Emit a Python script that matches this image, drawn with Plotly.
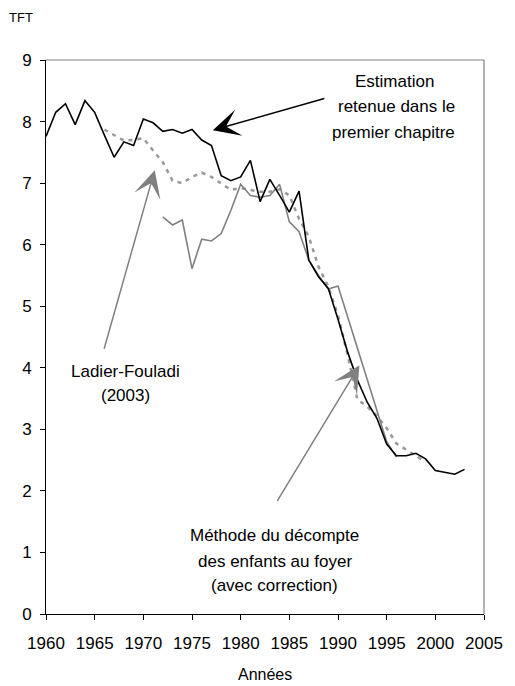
import plotly.graph_objects as go

# Estimation retenue dans le premier chapitre
years_est = list(range(1960, 2004))
tft_est = [7.76, 8.15, 8.29, 7.95, 8.34, 8.15, 7.78, 7.42, 7.67, 7.61,
           8.04, 7.98, 7.84, 7.87, 7.81, 7.87, 7.70, 7.61, 7.12, 7.04,
           7.10, 7.37, 6.70, 7.06, 6.80, 6.53, 6.87, 5.75, 5.48, 5.29,
           4.79, 4.25, 3.80, 3.44, 3.18, 2.76, 2.57, 2.57, 2.61, 2.52,
           2.33, 2.30, 2.27, 2.35]

# Méthode du décompte des enfants au foyer (avec correction)
years_own = list(range(1972, 1997))
tft_own = [6.45, 6.32, 6.40, 5.61, 6.09, 6.06, 6.18, 6.56, 6.98, 6.80,
           6.77, 6.80, 6.98, 6.37, 6.21, 5.75, 5.50, 5.28, 5.33, 4.82,
           4.30, 3.80, 3.30, 2.80, 2.55]

# Ladier-Fouladi (2003)
years_lf = list(range(1966, 2000))
tft_lf = [7.87, 7.78, 7.69, 7.70, 7.73, 7.53, 7.34, 7.04, 7.00, 7.10,
          7.17, 7.10, 6.99, 6.89, 6.92, 6.89, 6.86, 6.86, 6.90, 6.80,
          6.42, 6.13, 5.64, 5.32, 4.85, 4.20, 3.48, 3.37, 3.22, 3.02,
          2.77, 2.67, 2.57, 2.47]

x_ticks = list(range(1960, 2006, 5))
y_ticks = list(range(0, 10))

FONT = "Liberation Sans, Arial, sans-serif"

fig = go.Figure()
fig.add_trace(go.Scatter(x=years_lf, y=tft_lf, mode="lines",
                         line=dict(color="#999999", width=2.5, dash="4px,5px"),
                         showlegend=False))
fig.add_trace(go.Scatter(x=years_own, y=tft_own, mode="lines",
                         line=dict(color="#808080", width=1.6),
                         showlegend=False))
fig.add_trace(go.Scatter(x=years_est, y=tft_est, mode="lines",
                         line=dict(color="#000000", width=1.6),
                         showlegend=False))

ann = []
def txt(x, y, t):
    ann.append(dict(x=x, y=y, xref="x", yref="y", text=t, showarrow=False,
                    xanchor="center", yanchor="middle",
                    font=dict(family=FONT, size=17, color="#000")))

txt(1995.84, 8.65, "Estimation")
txt(1996.04, 8.24, "retenue dans le")
txt(1995.74, 7.82, "premier chapitre")
txt(1968.13, 3.94, "Ladier-Fouladi")
txt(1968.13, 3.55, "(2003)")
txt(1983.49, 1.27, "Méthode du décompte")
txt(1983.49, 0.86, "des enfants au foyer")
txt(1983.49, 0.47, "(avec correction)")

def arrow(x, y, ax, ay, color):
    ann.append(dict(x=x, y=y, xref="x", yref="y", ax=ax, ay=ay, text="",
                    showarrow=True, arrowhead=3, arrowsize=3,
                    arrowwidth=1.5, arrowcolor=color, standoff=0))

arrow(1977.14, 7.86, 113, -32, "#000000")
arrow(1971.17, 7.21, -51, 180, "#808080")
arrow(1992.2, 4.04, -83, 137, "#808080")

ann.append(dict(x=-0.056, y=1.077, xref="paper", yref="paper", text="TFT",
                showarrow=False, xanchor="center", yanchor="middle",
                font=dict(family=FONT, size=13, color="#000")))
ann.append(dict(x=0.5, y=-0.11, xref="paper", yref="paper", text="Années",
                showarrow=False, xanchor="center", yanchor="middle",
                font=dict(family=FONT, size=16, color="#000")))

# page body adds an 8px offset; compensate in size and margins
fig.update_layout(
    width=507, height=678,
    margin=dict(l=38, r=21, t=52, b=72),
    paper_bgcolor="white", plot_bgcolor="white",
    font=dict(family=FONT, size=17, color="#000"),
    annotations=ann,
    shapes=[
        dict(type="line", xref="paper", yref="paper", x0=0, y0=1, x1=1, y1=1,
             line=dict(color="#808080", width=1.2), layer="below"),
        dict(type="line", xref="paper", yref="paper", x0=1, y0=0, x1=1, y1=1,
             line=dict(color="#808080", width=1.2), layer="below"),
    ],
    xaxis=dict(range=[1960, 2005], tickvals=x_ticks, ticktext=[str(v) for v in x_ticks],
               showgrid=False, zeroline=False, showline=True, linecolor="#000",
               linewidth=1, ticks="outside", ticklen=5, tickcolor="#000",
               ticklabelstandoff=9, tickfont=dict(size=17)),
    yaxis=dict(range=[0, 9], tickvals=y_ticks, ticktext=[str(v) for v in y_ticks],
               showgrid=False, zeroline=False, showline=True, linecolor="#000",
               linewidth=1, ticks="outside", ticklen=5, tickcolor="#000",
               ticklabelstandoff=5, tickfont=dict(size=17)),
)

fig.write_html("out.html")
